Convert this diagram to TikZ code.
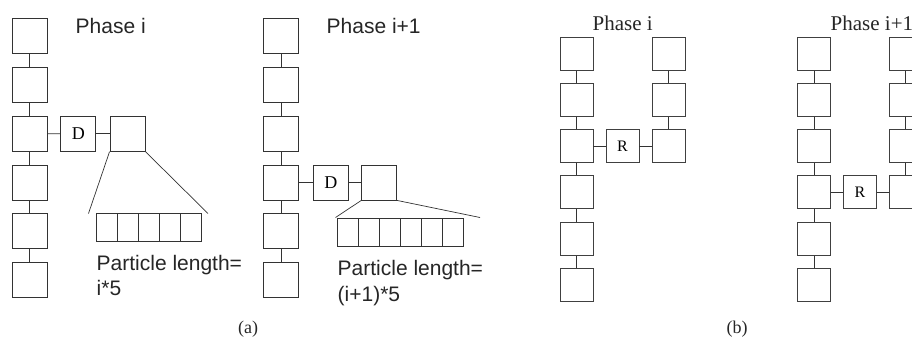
\documentclass[tikz,border=0pt]{standalone}
\usepackage{fontspec}
\setmainfont{Liberation Serif}
\newfontfamily\helv{Liberation Sans}
\begin{document}
\begin{tikzpicture}[x=1pt,y=-1pt,
  boxa/.style={draw=black!80, line width=0.9pt, minimum width=35pt, minimum height=35pt,
    inner sep=0pt, font=\fontsize{18}{18}\selectfont},
  boxb/.style={draw=black!75, line width=0.9pt, minimum width=33pt, minimum height=33pt,
    inner sep=0pt, font=\fontsize{16}{16}\selectfont},
  slot/.style={draw=black!80, line width=0.8pt, minimum width=21pt, minimum height=28pt, inner sep=0pt},
  link/.style={draw=black!80, line width=0.9pt},
  sanstext/.style={font=\helv\fontsize{21}{25}\selectfont, anchor=base west, inner sep=0pt, text=black!85},
  seriftext/.style={font=\fontsize{21}{25}\selectfont, anchor=base west, inner sep=0pt, text=black!85},
  caption/.style={font=\fontsize{18}{18}\selectfont, inner sep=0pt, text=black!85}
]
\useasboundingbox (0,0) rectangle (912,343);
\clip (0,0) rectangle (912,343);

% ---------------- (a) phase i ----------------
\foreach \k in {1,...,6}
  \node[boxa] (a\k) at (29.5, {36+48.85*(\k-1)}) {};
\foreach \k [count=\j] in {2,...,6}
  \draw[link] (a\j) -- (a\k);
\node[boxa] (da) at (78.3, 133.7) {D};
\node[boxa] (ea) at (127.5, 133.7) {};
\draw[link] (a3) -- (da);
\draw[link] (da) -- (ea);
\foreach \k in {1,...,5}
  \node[slot] (pa\k) at ({96+21*(\k-0.5)}, 227.8) {};
\coordinate (fa1) at (88.5,213.5);
\coordinate (fa2) at (208,213.5);
\draw[link, line width=0.7pt] (ea.south west) -- (fa1);
\draw[link, line width=0.7pt] (ea.south east) -- (fa2);
\node[sanstext] (pha) at (75.5,33.3) {Phase i};
\node[sanstext] (lena1) at (96.5,270) {Particle length=};
\node[sanstext] (lena2) at (96.5,295) {i*5};

% ---------------- (a) phase i+1 ----------------
\foreach \k in {1,...,6}
  \node[boxa] (b\k) at (281, {36+48.85*(\k-1)}) {};
\foreach \k [count=\j] in {2,...,6}
  \draw[link] (b\j) -- (b\k);
\node[boxa] (db) at (330.8, 182.5) {D};
\node[boxa] (eb) at (379.2, 182.5) {};
\draw[link] (b4) -- (db);
\draw[link] (db) -- (eb);
\foreach \k in {1,...,6}
  \node[slot] (pb\k) at ({337.3+21*(\k-0.5)}, 232) {};
\coordinate (fb1) at (335.5,217.5);
\coordinate (fb2) at (480,217.5);
\draw[link, line width=0.7pt] (eb.south west) -- (fb1);
\draw[link, line width=0.7pt] (eb.south east) -- (fb2);
\node[sanstext] (phb) at (326.5,33.3) {Phase i+1};
\node[sanstext] (lenb1) at (337.5,275) {Particle length=};
\node[sanstext] (lenb2) at (337.5,301.5) {(i+1)*5};

\node[caption] (capa) at (248,329) {(a)};

% ---------------- (b) phase i ----------------
\foreach \k in {1,...,6}
  \node[boxb] (c\k) at (576.5, {53.8+46.2*(\k-1)}) {};
\foreach \k [count=\j] in {2,...,6}
  \draw[link] (c\j) -- (c\k);
\node[boxb] (rc) at (622.5, 146.2) {R};
\foreach \k in {1,...,3}
  \node[boxb] (d\k) at (668.7, {53.8+46.2*(\k-1)}) {};
\foreach \k [count=\j] in {2,...,3}
  \draw[link] (d\j) -- (d\k);
\draw[link] (c3) -- (rc);
\draw[link] (rc) -- (d3);
\node[seriftext] (phc) at (592.5,30.7) {Phase i};

% ---------------- (b) phase i+1 ----------------
\foreach \k in {1,...,6}
  \node[boxb] (e\k) at (814, {53.8+46.2*(\k-1)}) {};
\foreach \k [count=\j] in {2,...,6}
  \draw[link] (e\j) -- (e\k);
\node[boxb] (re) at (860, 192.4) {R};
\foreach \k in {1,...,4}
  \node[boxb] (f\k) at (905.8, {53.8+46.2*(\k-1)}) {};
\foreach \k [count=\j] in {2,...,4}
  \draw[link] (f\j) -- (f\k);
\draw[link] (e4) -- (re);
\draw[link] (re) -- (f4);
\node[seriftext] (phe) at (830.5,30.5) {Phase i+1};

\node[caption] (capb) at (737,329) {(b)};
\end{tikzpicture}
\end{document}
